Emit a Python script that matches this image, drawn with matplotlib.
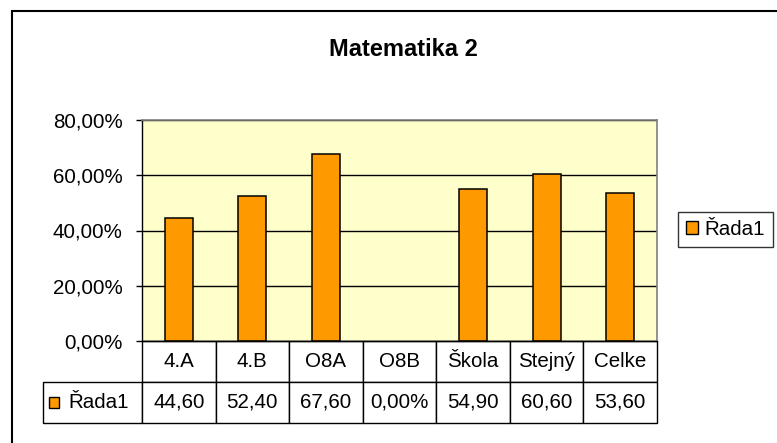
import matplotlib
matplotlib.use("Agg")
import matplotlib.pyplot as plt
from matplotlib.patches import Rectangle
from matplotlib.ticker import FuncFormatter

plt.rcParams['font.family'] = ['Liberation Sans', 'DejaVu Sans']

# data
categories = ["4.A", "4.B", "O8A", "O8B", "Škola", "Stejný", "Celke"]
values = [44.6, 52.4, 67.6, 0.0, 54.9, 60.6, 53.6]
table_labels = ["44,60", "52,40", "67,60", "0,00%", "54,90", "60,60", "53,60"]
series_name = "Řada1"
y_ticks = [0, 20, 40, 60, 80]

bar_color = "#FF9900"
plot_bg = "#FFFFCC"
fs = 14.8

fig = plt.figure(figsize=(7.77, 4.43), dpi=100, facecolor='white')
ax = fig.add_axes([142 / 777, 1 - 341 / 443, 515 / 777, 221 / 443])
ax.set_facecolor(plot_bg)

x = range(len(categories))
# a zero bar gets no outline, like in Excel
edges = ['black' if v > 0 else 'none' for v in values]
ax.bar(x, values, width=0.38, color=bar_color, edgecolor=edges, linewidth=1.1, zorder=2)

ax.set_xlim(-0.5, len(categories) - 0.5)
ax.set_ylim(0, 80)
ax.set_yticks(y_ticks)
ax.yaxis.set_major_formatter(FuncFormatter(lambda v, _: f"{v:.2f}".replace('.', ',') + '%'))
ax.tick_params(axis='y', length=4, width=1, pad=10, labelsize=fs, colors='black')
ax.tick_params(axis='x', length=0, labelbottom=False)
ax.set_axisbelow(True)
ax.yaxis.grid(True, color='black', linewidth=1.0)

for side in ('left', 'bottom'):
    ax.spines[side].set_color('black')
    ax.spines[side].set_linewidth(1.0)
for side in ('top', 'right'):
    ax.spines[side].set_color('#808080')
    ax.spines[side].set_linewidth(1.2)
ax.spines['top'].set_zorder(3)

# data table under the axis
row_w = 99
col_w = 515 / len(categories)
tbl = ax.table(
    cellText=[[''] + table_labels],
    colLabels=[''] + categories,
    colWidths=[row_w] + [col_w] * len(categories),
    cellLoc='center',
    colLoc='center',
    bbox=[(43 - 142) / 515, -82 / 221, (657 - 43) / 515, 82 / 221],
)
tbl.auto_set_font_size(False)
tbl.set_fontsize(fs)
for (r, c), cell in tbl.get_celld().items():
    cell.set_edgecolor('black')
    cell.set_linewidth(1.0)
    cell.set_facecolor('white')
tbl[0, 0].set_visible(False)

# legend key inside the table
ax.add_patch(Rectangle(((49 - 142) / 515, (341 - 408) / 221), 10 / 515, 11 / 221,
                       transform=ax.transAxes, facecolor=bar_color, edgecolor='black',
                       linewidth=1.0, clip_on=False, zorder=5))
ax.text((68 - 142) / 515, (341 - 402) / 221, series_name, transform=ax.transAxes,
        ha='left', va='center', fontsize=fs, zorder=5)

# legend at the right
leg = ax.legend([series_name], loc='center', bbox_to_anchor=(725.5 / 777, 1 - 229.5 / 443),
                bbox_transform=fig.transFigure, fontsize=fs, frameon=True, fancybox=False,
                handlelength=0.6, handleheight=0.6, handletextpad=0.3, borderpad=0.4,
                borderaxespad=0)
leg.get_frame().set_edgecolor('black')
leg.get_frame().set_linewidth(1.0)
for h in leg.legend_handles:
    h.set_edgecolor('black')

# title
fig.text(403.5 / 777, 1 - 49 / 443, "Matematika 2", ha='center', va='center',
         fontsize=17, weight='bold')

# chart area frame (cut by the image edge)
fig.patches.append(Rectangle((12 / 777, -0.1), 1.2, 1.1 - 11 / 443, transform=fig.transFigure,
                             fill=False, edgecolor='black', linewidth=1.5))

fig.savefig("out.png", dpi=100, facecolor='white')
plt.close(fig)
